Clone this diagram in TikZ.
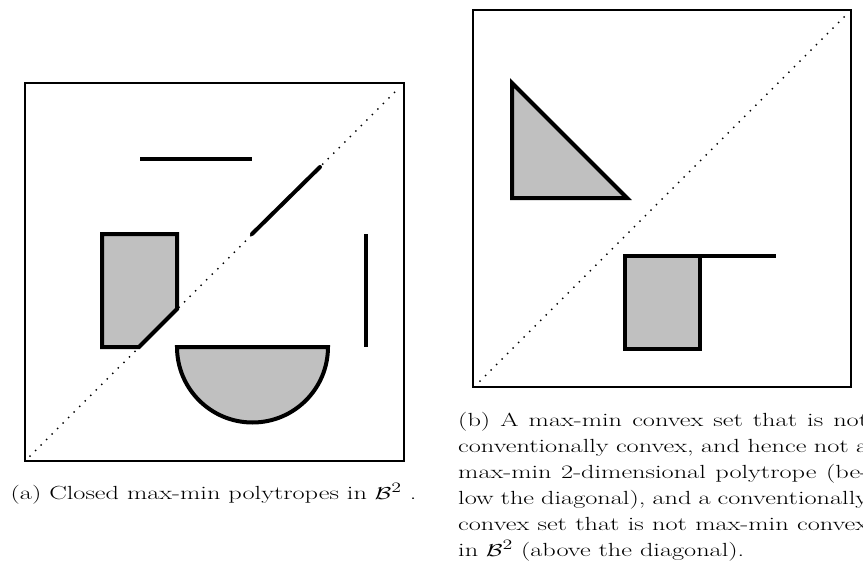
\documentclass[tikz,border=0pt]{standalone}
\usepackage{amsmath,amssymb}
\usepackage{graphicx}
\definecolor{fillg}{RGB}{192,192,192}
\newcommand{\wide}[1]{\scalebox{1.385}[1]{#1}}
\begin{document}
\begin{tikzpicture}[x=1pt,y=-1pt,
  frame/.style={draw=black,line width=2pt},
  diag/.style={line width=2pt,line cap=round,dash pattern=on 0pt off 7.8pt},
  thickseg/.style={line width=4pt},
  region/.style={draw=black,fill=fillg,line width=4pt,line join=miter},
  captext/.style={inner sep=0pt,font=\fontsize{19}{26}\selectfont}]
\useasboundingbox (0,0) rectangle (863,576);
% ---- left panel ----
\draw[frame] (25,83) rectangle (404,461);
\draw[diag] (30,456) -- (400,87);
\draw[thickseg] (140,158.5) -- (252,158.5);
\draw[thickseg,line cap=round] (252,234) -- (320,167);
\draw[thickseg] (366,234) -- (366,347);
\draw[region] (102,234) -- (177,234) -- (177,309) -- (139,347) -- (102,347) -- cycle;
\draw[region] (177,347) -- (328,347) arc[start angle=0, end angle=180, radius=75.5] -- cycle;
\node[captext,anchor=base] (capa) at (213.5,499) {\wide{(a) Closed max-min polytropes in $\mathcal{B}^2$ .}};
% ---- right panel ----
\draw[frame] (473,10) rectangle (851,387);
\draw[diag] (480,381) -- (847,14);
\draw[region] (512,83) -- (627,198) -- (512,198) -- cycle;
\draw[thickseg] (700,256) -- (776,256);
\draw[region] (625,256) rectangle (700,349);
\node[captext,anchor=base west] (capb) at (458,426) {\wide{\begin{minipage}[t]{296pt}\fontsize{19}{26}\selectfont
(b) A max-min convex set that is not\linebreak
conventionally convex, and hence not a\linebreak
max-min 2-dimensional polytrope (be-\linebreak
low the diagonal), and a conventionally\linebreak
convex set that is not max-min convex\linebreak
in $\mathcal{B}^2$ (above the diagonal).\end{minipage}}};
\end{tikzpicture}
\end{document}
